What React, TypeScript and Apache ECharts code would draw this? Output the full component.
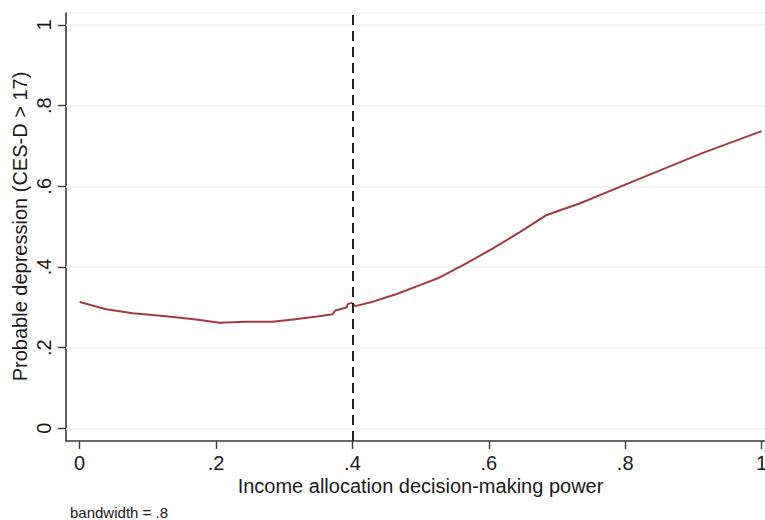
import React, { useEffect, useRef } from "react";
import * as echarts from "echarts";

const xValues = [0, 0.039, 0.078, 0.127, 0.171, 0.205, 0.244, 0.283, 0.313, 0.348, 0.371, 0.375, 0.392, 0.393, 0.399, 0.404, 0.43, 0.465, 0.499, 0.528, 0.567, 0.606, 0.646, 0.685, 0.734, 0.817, 0.914, 1.0];
const yValues = [0.313, 0.295, 0.285, 0.278, 0.27, 0.262, 0.264, 0.264, 0.27, 0.277, 0.283, 0.292, 0.3, 0.308, 0.311, 0.303, 0.314, 0.333, 0.355, 0.374, 0.409, 0.446, 0.487, 0.529, 0.558, 0.616, 0.683, 0.737];
const xTicks = [0, 0.2, 0.4, 0.6, 0.8, 1];
const yTicks = [0, 0.2, 0.4, 0.6, 0.8, 1];
const cutoff = 0.4;
const xTitle = "Income allocation decision-making power";
const yTitle = "Probable depression (CES-D > 17)";
const note = "bandwidth = .8";

const FONT = "'Liberation Sans', Arial, Helvetica, sans-serif";
const fmt = (v: number) => {
  const s = String(Math.round(v * 10) / 10);
  return s.startsWith("0.") ? s.slice(1) : s;
};

export default function App() {
  const ref = useRef<HTMLDivElement>(null);
  useEffect(() => {
    if (!ref.current) return;
    const chart = echarts.init(ref.current, null, { renderer: "svg" });
    const data = xValues.map((x, i) => [x, yValues[i]]);
    chart.setOption({
      animation: false,
      backgroundColor: "#ffffff",
      textStyle: { fontFamily: FONT },
      grid: {
        left: 66,
        top: 13,
        width: 699,
        height: 428,
        containLabel: false,
        outerBoundsMode: "none",
        show: true,
        borderColor: "#edf1f3",
        borderWidth: 1,
        backgroundColor: "transparent",
      },
      xAxis: {
        type: "value",
        min: -0.02,
        max: 1.005,
        axisLine: { show: true, onZero: false, lineStyle: { color: "#3a3a3a", width: 1.6 } },
        axisTick: { show: true, length: 8, customValues: xTicks, lineStyle: { color: "#3a3a3a", width: 1.4 } },
        axisLabel: {
          customValues: xTicks,
          formatter: fmt,
          fontSize: 20,
          color: "#1a1a1a",
          fontFamily: FONT,
          margin: 12,
        },
        splitLine: { show: false },
      },
      yAxis: {
        type: "value",
        min: -0.0315,
        max: 1.0298,
        axisLine: { show: true, onZero: false, lineStyle: { color: "#3a3a3a", width: 1.6 } },
        axisTick: { show: true, length: 8, customValues: yTicks, lineStyle: { color: "#3a3a3a", width: 1.4 } },
        axisLabel: {
          customValues: yTicks,
          formatter: fmt,
          rotate: 90,
          fontSize: 20,
          color: "#1a1a1a",
          fontFamily: FONT,
          margin: 12,
        },
        splitLine: { show: false },
      },
      series: [
        {
          type: "line",
          data: [],
          z: 1,
          silent: true,
          markLine: {
            z: 1,
            silent: true,
            symbol: ["none", "none"],
            label: { show: false },
            lineStyle: { color: "#f0f0f0", width: 1.5, type: "solid" },
            data: yTicks.map((v) => ({ yAxis: v })),
          },
        },
        {
          type: "line",
          data,
          z: 4,
          showSymbol: false,
          smooth: false,
          lineStyle: { color: "#a33b3e", width: 2 },
          itemStyle: { color: "#a33b3e" },
          markLine: {
            z: 6,
            silent: true,
            symbol: ["none", "none"],
            label: { show: false },
            lineStyle: { color: "#222222", width: 2, type: [10, 6] },
            data: [{ xAxis: cutoff }],
          },
        },
      ],
      graphic: [
        {
          type: "text",
          x: 20,
          y: 226.5,
          rotation: Math.PI / 2,
          style: {
            text: yTitle,
            fontSize: 20,
            fontFamily: FONT,
            fill: "#1a1a1a",
            align: "center",
            verticalAlign: "middle",
          },
        },
        {
          type: "text",
          x: 420.5,
          y: 486,
          style: {
            text: xTitle,
            fontSize: 20,
            fontFamily: FONT,
            fill: "#1a1a1a",
            align: "center",
            verticalAlign: "middle",
          },
        },
        {
          type: "text",
          x: 70,
          y: 512,
          style: {
            text: note,
            fontSize: 15,
            fontFamily: FONT,
            fill: "#1a1a1a",
            align: "left",
            verticalAlign: "middle",
          },
        },
      ],
    });
    return () => chart.dispose();
  }, []);
  return (
    <div
      ref={ref}
      style={{ position: "fixed", left: 0, top: 0, width: 765, height: 520 }}
    />
  );
}
